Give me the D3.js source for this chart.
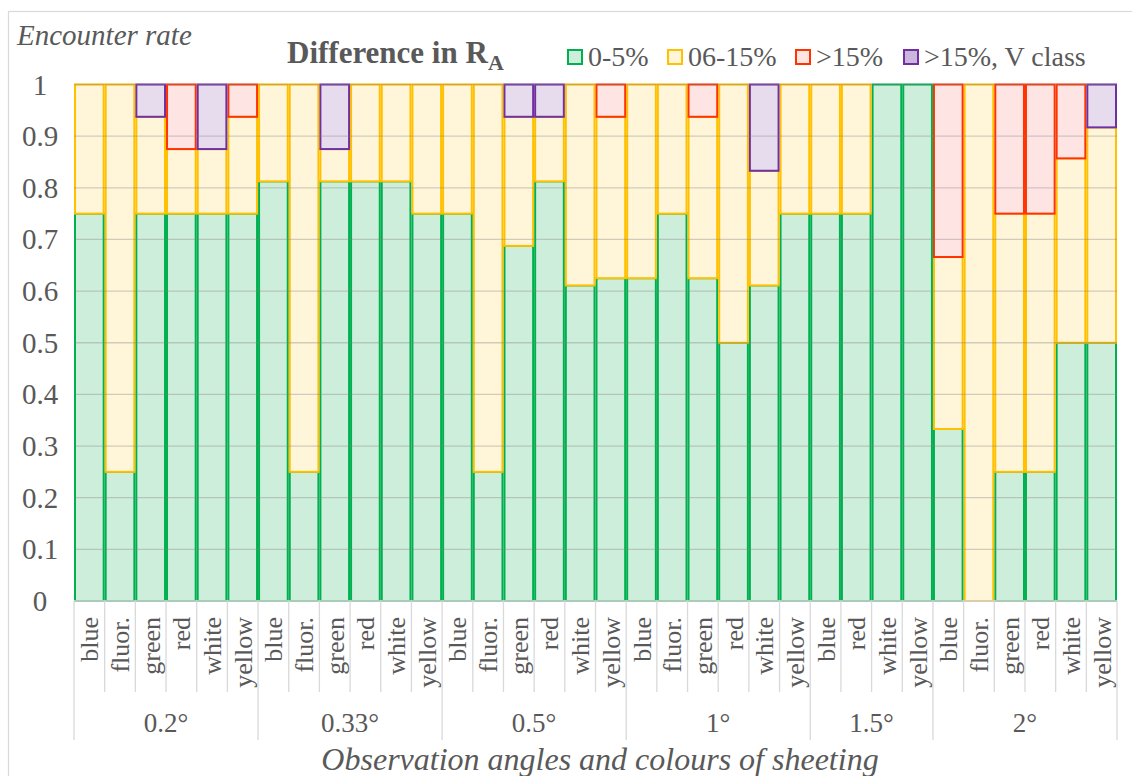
<!DOCTYPE html>
<html lang="en">
<head>
<meta charset="UTF-8">
<title>Difference in RA</title>
<script src="https://d3js.org/d3.v7.min.js"></script>
<style>
    body { margin: 0; background: #fff; }
</style>
</head>
<body>
<div id="chart"></div>
<script>
// observation angles and the sheeting colours measured at each
var groups = ["0.2°", "0.33°", "0.5°", "1°", "1.5°", "2°"];
var groupColours = [
    ["blue", "fluor.", "green", "red", "white", "yellow"],
    ["blue", "fluor.", "green", "red", "white", "yellow"],
    ["blue", "fluor.", "green", "red", "white", "yellow"],
    ["blue", "fluor.", "green", "red", "white", "yellow"],
    ["blue", "red", "white", "yellow"],
    ["blue", "fluor.", "green", "red", "white", "yellow"]
];

// series values (null = no bar segment)
var diff0to5 = [0.75, 0.25, 0.75, 0.75, 0.75, 0.75,
    0.8125, 0.25, 0.8125, 0.8125, 0.8125, 0.75,
    0.75, 0.25, 0.6875, 0.8125, 0.611, 0.625,
    0.625, 0.75, 0.625, 0.5, 0.611, 0.75,
    0.75, 0.75, 1, 1,
    0.333, null, 0.25, 0.25, 0.5, 0.5];
var diff6to15 = [0.25, 0.75, 0.1875, 0.125, 0.125, 0.1875,
    0.1875, 0.75, 0.0625, 0.1875, 0.1875, 0.25,
    0.25, 0.75, 0.25, 0.125, 0.389, 0.3125,
    0.375, 0.25, 0.3125, 0.5, 0.222, 0.25,
    0.25, 0.25, null, null,
    0.333, 1, 0.5, 0.5, 0.357, 0.417];
var diffOver15 = [null, null, null, 0.125, null, 0.0625,
    null, null, null, null, null, null,
    null, null, null, null, null, 0.0625,
    null, null, 0.0625, null, null, null,
    null, null, null, null,
    0.334, null, 0.25, 0.25, 0.143, null];
var diffOver15V = [0, null, 0.0625, null, 0.125, null,
    null, null, 0.125, null, null, null,
    null, null, 0.0625, 0.0625, null, null,
    null, null, null, null, 0.167, null,
    null, null, null, null,
    null, null, null, null, null, 0.083];

var seriesNames = ["0-5%", "06-15%", ">15%", ">15%, V class"];
var seriesValues = [diff0to5, diff6to15, diffOver15, diffOver15V];
var strokeColors = ["#00b050", "#ffc000", "#ff3300", "#7030a0"];
var fillColors = ["#cdeedb", "#fff5d8", "#ffe4e4", "#e7dcee"];
var legendFills = ["#cdeedb", "#fff5d8", "#ffe4e4", "#cbb6dd"];

var width = 1132, height = 776;
var serif = "'Liberation Serif', Tinos, 'Times New Roman', 'DejaVu Serif', serif";
var textColor = "#595959";

// flatten into one row per bar
var rows = [];
groups.forEach(function(g, gi) {
    groupColours[gi].forEach(function(c) {
        rows.push({ group: g, gi: gi, colour: c });
    });
});
rows.forEach(function(r, i) {
    seriesNames.forEach(function(s, si) {
        r[s] = seriesValues[si][i];
    });
    r.index = i;
});

var svg = d3.select("#chart").append("svg")
    .attr("width", width)
    .attr("height", height)
    .style("font-family", serif);

// chart frame
svg.append("rect")
    .attr("x", 8.5).attr("y", 11.5)
    .attr("width", 1140).attr("height", 800)
    .attr("fill", "none")
    .attr("stroke", "#d9d9d9")
    .attr("stroke-width", 1.2);

var plotLeft = 74, plotRight = 1117, plotTop = 84.5, plotBottom = 601;

var x = d3.scaleBand()
    .domain(d3.range(rows.length))
    .range([plotLeft, plotRight])
    .padding(0);

var y = d3.scaleLinear()
    .domain([0, 1])
    .range([plotBottom, plotTop]);

var stack = d3.stack()
    .keys(seriesNames)
    .value(function(d, key) { return d[key] || 0; });
var stacked = stack(rows);

// bars
stacked.forEach(function(layer, si) {
    svg.append("g")
        .selectAll("rect")
        .data(layer.filter(function(d) { return d.data[seriesNames[si]] !== null; }))
        .enter().append("rect")
        .attr("x", function(d) { return x(d.data.index) + 1; })
        .attr("y", function(d) { return y(d[1]); })
        .attr("width", x.bandwidth() - 2)
        .attr("height", function(d) { return y(d[0]) - y(d[1]); })
        .attr("fill", fillColors[si])
        .attr("stroke", strokeColors[si])
        .attr("stroke-width", 2);
});

// gridlines, seen through the bars
var yTicks = y.ticks(10);
svg.append("g")
    .selectAll("line")
    .data(yTicks)
    .enter().append("line")
    .attr("x1", plotLeft).attr("x2", plotRight)
    .attr("y1", function(d) { return y(d); })
    .attr("y2", function(d) { return y(d); })
    .attr("stroke", "#7f7f7f")
    .attr("stroke-opacity", 0.35)
    .attr("stroke-width", 1.3);

// y tick labels
svg.append("g")
    .selectAll("text")
    .data(yTicks)
    .enter().append("text")
    .attr("x", 40)
    .attr("y", function(d) { return y(d) + 10; })
    .attr("text-anchor", "middle")
    .attr("fill", textColor)
    .style("font-size", "29px")
    .text(function(d) { return d3.format("~g")(d); });

// x axis line
svg.append("line")
    .attr("x1", plotLeft).attr("x2", plotRight)
    .attr("y1", plotBottom).attr("y2", plotBottom)
    .attr("stroke", "#d9d9d9").attr("stroke-width", 1.3);

// category separators
var bounds = d3.range(rows.length + 1);
svg.append("g")
    .selectAll("line")
    .data(bounds)
    .enter().append("line")
    .attr("x1", function(i) { return i < rows.length ? x(i) : plotRight; })
    .attr("x2", function(i) { return i < rows.length ? x(i) : plotRight; })
    .attr("y1", plotBottom)
    .attr("y2", function(i) {
        var isGroup = i === 0 || i === rows.length || rows[i].gi !== rows[i - 1].gi;
        return isGroup ? 740 : 692;
    })
    .attr("stroke", "#d9d9d9").attr("stroke-width", 1.3);

// colour labels
svg.append("g")
    .selectAll("text")
    .data(rows)
    .enter().append("text")
    .attr("transform", function(d) {
        return "translate(" + (x(d.index) + x.bandwidth() / 2 + 9) + ",617) rotate(-90)";
    })
    .attr("text-anchor", "end")
    .attr("fill", textColor)
    .style("font-size", "26px")
    .text(function(d) { return d.colour; });

// group labels
svg.append("g")
    .selectAll("text")
    .data(groups)
    .enter().append("text")
    .attr("x", function(g, gi) {
        var members = rows.filter(function(r) { return r.gi === gi; });
        var a = x(members[0].index), b = x(members[members.length - 1].index) + x.bandwidth();
        return (a + b) / 2;
    })
    .attr("y", 732)
    .attr("text-anchor", "middle")
    .attr("fill", textColor)
    .style("font-size", "27px")
    .text(function(g) { return g; });

// axis titles
svg.append("text")
    .attr("x", 17).attr("y", 45)
    .attr("fill", textColor)
    .style("font-size", "29px")
    .style("font-style", "italic")
    .text("Encounter rate");

svg.append("text")
    .attr("x", 600).attr("y", 770)
    .attr("text-anchor", "middle")
    .attr("fill", textColor)
    .style("font-size", "32px")
    .style("font-style", "italic")
    .text("Observation angles and colours of sheeting");

// chart title
var title = svg.append("text")
    .attr("x", 287).attr("y", 63)
    .attr("fill", textColor)
    .style("font-size", "31px")
    .style("font-weight", "bold");
title.append("tspan").text("Difference in R");
title.append("tspan")
    .attr("dy", 7)
    .style("font-size", "22px")
    .text("A");

// legend
var legendX = [567, 667, 795, 903];
var legend = svg.append("g");
seriesNames.forEach(function(name, si) {
    legend.append("rect")
        .attr("x", legendX[si] + 1).attr("y", 50)
        .attr("width", 14).attr("height", 14)
        .attr("fill", legendFills[si])
        .attr("stroke", strokeColors[si])
        .attr("stroke-width", 2);
    legend.append("text")
        .attr("x", legendX[si] + 21).attr("y", 66)
        .attr("fill", textColor)
        .style("font-size", "28px")
        .text(name);
});
</script>
</body>
</html>
